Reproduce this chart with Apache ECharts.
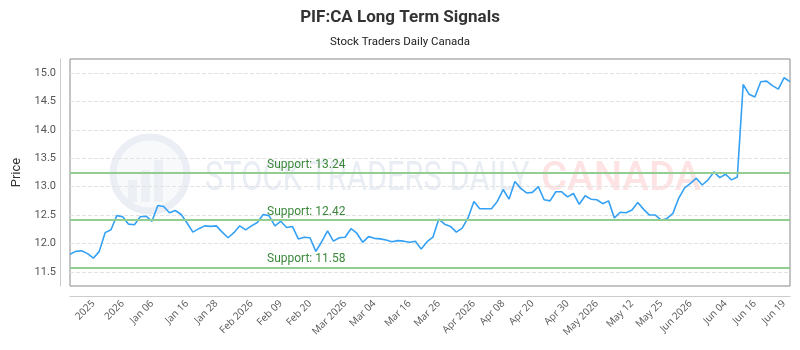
<!DOCTYPE html>
<html>
<head>
<meta charset="utf-8">
<script src="https://cdn.jsdelivr.net/npm/echarts@6/dist/echarts.min.js"></script>
<style>
html, body { margin: 0; padding: 0; background: #fff; }
#chart { width: 800px; height: 350px; }
</style>
</head>
<body>
<div id="chart"></div>
<script>
// closing prices, one per trading day
var prices = [
	11.81, 11.86, 11.87, 11.82, 11.74, 11.86, 12.19, 12.24, 12.49, 12.47,
	12.34, 12.33, 12.47, 12.48, 12.39, 12.67, 12.65, 12.54, 12.58, 12.51,
	12.36, 12.20, 12.26, 12.31, 12.30, 12.31, 12.20, 12.10, 12.19, 12.31,
	12.24, 12.31, 12.37, 12.51, 12.49, 12.31, 12.39, 12.28, 12.30, 12.08,
	12.11, 12.10, 11.86, 12.03, 12.22, 12.04, 12.10, 12.11, 12.26, 12.18,
	12.02, 12.12, 12.09, 12.08, 12.06, 12.03, 12.05, 12.04, 12.02, 12.04,
	11.90, 12.03, 12.11, 12.43, 12.34, 12.30, 12.20, 12.27, 12.45, 12.74,
	12.61, 12.61, 12.61, 12.74, 12.95, 12.78, 13.09, 12.97, 12.89, 12.90,
	13.00, 12.77, 12.75, 12.91, 12.91, 12.82, 12.88, 12.69, 12.84, 12.78,
	12.77, 12.70, 12.75, 12.45, 12.55, 12.54, 12.59, 12.72, 12.60, 12.50,
	12.50, 12.41, 12.44, 12.53, 12.80, 12.98, 13.06, 13.15, 13.03, 13.12,
	13.26, 13.16, 13.22, 13.12, 13.17, 14.80, 14.63, 14.58, 14.85, 14.86,
	14.78, 14.72, 14.92, 14.85
];
var tickLabels = ['2025', '2026', 'Jan 06', 'Jan 16', 'Jan 28', 'Feb 2026', 'Feb 09', 'Feb 20',
	'Mar 2026', 'Mar 04', 'Mar 16', 'Mar 26', 'Apr 2026', 'Apr 08', 'Apr 20', 'Apr 30',
	'May 2026', 'May 12', 'May 25', 'Jun 2026', 'Jun 04', 'Jun 16', 'Jun 19'];
var tickIndex = [4, 9, 14, 20, 25, 31, 36, 41, 47, 52, 58, 63, 69, 74, 79, 85, 90, 96, 101, 106, 112, 117, 122];
var supports = [13.24, 12.42, 11.58];

var days = prices.map(function(p, i){ return i; });

var chart = echarts.init(document.getElementById('chart'));
var option = {
	animation: false,
	title: {
		text: 'PIF:CA Long Term Signals',
		subtext: 'Stock Traders Daily Canada',
		left: 'center',
		top: 4,
		itemGap: 10,
		textStyle: { fontFamily: 'Roboto', fontWeight: 'bold', fontSize: 17, color: '#333' },
		subtextStyle: { fontFamily: 'Roboto', fontSize: 11.5, color: '#222' }
	},
	graphic: [
		// faded watermark logo
		{ type: 'circle', silent: true, z: 0, shape: { cx: 150, cy: 174, r: 37 },
		  style: { fill: '#f8f9fb', stroke: '#ebeef4', lineWidth: 7 } },
		{ type: 'rect', silent: true, z: 0, shape: { x: 128, y: 180, width: 9, height: 22 }, style: { fill: '#eceff4' } },
		{ type: 'rect', silent: true, z: 0, shape: { x: 141, y: 170, width: 9, height: 32 }, style: { fill: '#eceff4' } },
		{ type: 'rect', silent: true, z: 0, shape: { x: 154, y: 160, width: 9, height: 42 }, style: { fill: '#eceff4' } },
		{ type: 'text', silent: true, z: 0, x: 205, y: 180, scaleX: 0.77,
		  style: { text: 'STOCK TRADERS DAILY', fontFamily: 'Roboto', fontSize: 40, fill: '#e9edf4', verticalAlign: 'middle' } },
		{ type: 'text', silent: true, z: 0, x: 541, y: 180,
		  style: { text: 'CANADA', fontFamily: 'Roboto', fontWeight: 500, fontSize: 40, fill: '#fde3e3', verticalAlign: 'middle' } }
	],
	grid: {
		left: 70, right: 10, top: 59, bottom: 64,
		show: true, borderColor: '#888', borderWidth: 1
	},
	xAxis: {
		type: 'category',
		data: days,
		boundaryGap: false,
		offset: 10,
		axisLine: { lineStyle: { color: '#ccc' } },
		axisTick: { show: false },
		splitLine: { show: false },
		axisLabel: {
			rotate: 45,
			fontSize: 10,
			color: '#555',
			fontFamily: 'Open Sans',
			margin: 6,
			interval: function(i){ return tickIndex.indexOf(i) >= 0; },
			formatter: function(v, i){ return tickLabels[tickIndex.indexOf(i)]; }
		}
	},
	yAxis: {
		type: 'value',
		min: 11.25,
		max: 15.25,
		interval: 0.25,
		offset: 10,
		name: 'Price',
		nameLocation: 'middle',
		nameGap: 37,
		nameTextStyle: { fontSize: 13, color: '#333', fontFamily: 'Roboto' },
		axisLine: { show: true, lineStyle: { color: '#ccc' } },
		axisTick: { show: false },
		axisLabel: {
			fontSize: 11, color: '#555', fontFamily: 'Roboto', margin: 4,
			formatter: function(v){ return (v * 2) % 1 === 0 && v < 15.2 && v > 11.3 ? v.toFixed(1) : ''; }
		},
		splitLine: { lineStyle: { type: 'dashed', color: ['rgba(0,0,0,0)', '#e3e3e3'] } }
	},
	series: [{
		type: 'line',
		data: prices,
		showSymbol: false,
		lineStyle: { color: '#35a1f4', width: 1.6 },
		itemStyle: { color: '#35a1f4' },
		z: 3,
		markLine: {
			silent: true,
			symbol: 'none',
			lineStyle: { color: '#92cd92', width: 2, type: 'solid' },
			label: {
				position: 'insideStartTop',
				distance: [197, 2],
				color: '#3b883b',
				fontSize: 12,
				fontFamily: 'Roboto',
				formatter: function(p){ return 'Support: ' + p.value.toFixed(2); }
			},
			data: supports.map(function(s){ return { yAxis: s }; })
		}
	}]
};
chart.setOption(option);
</script>
</body>
</html>
